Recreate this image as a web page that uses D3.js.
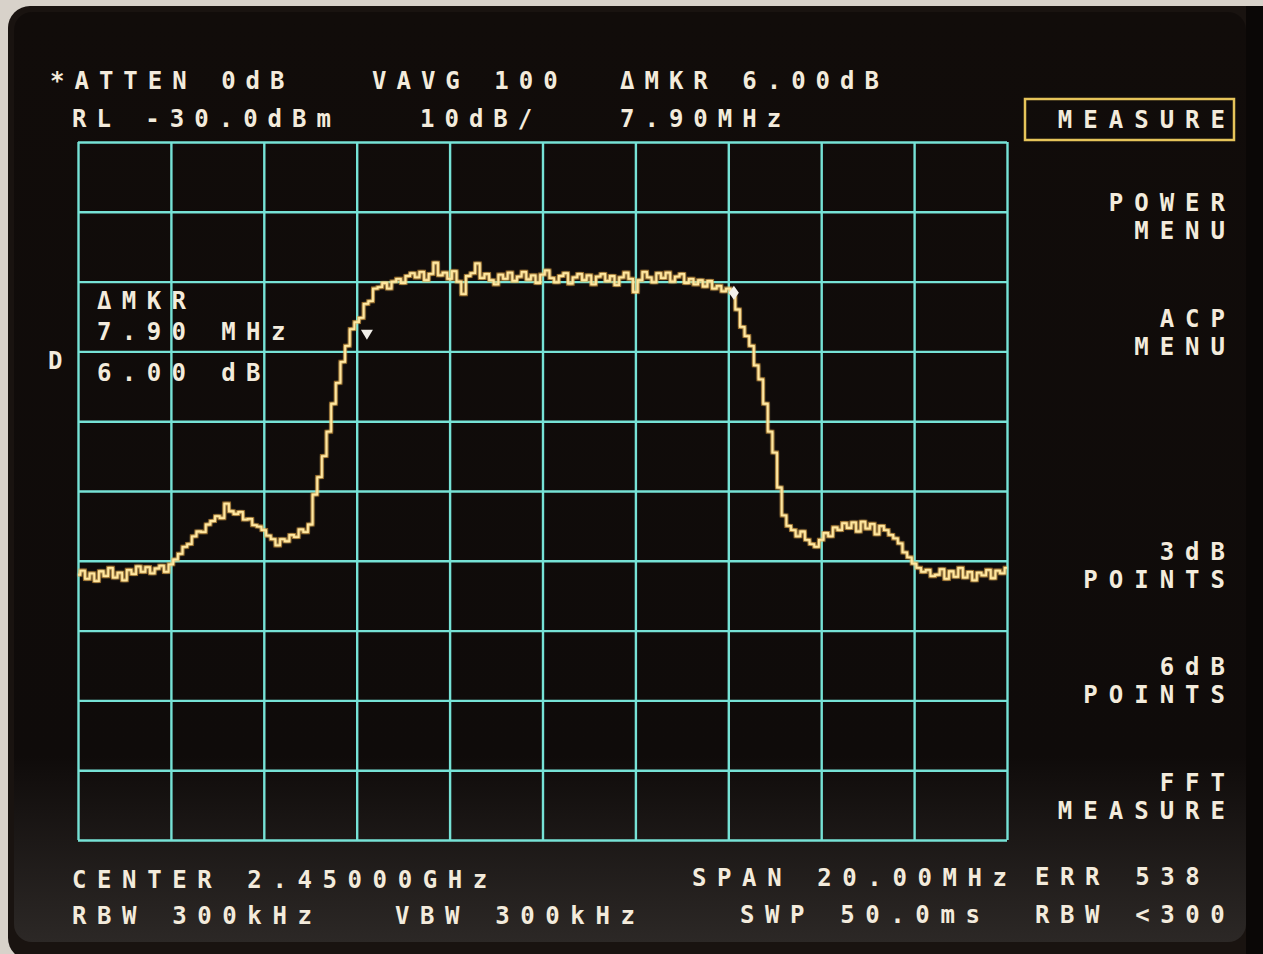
<!DOCTYPE html>
<html>
<head>
    <meta charset="utf-8">
    <title>Spectrum analyzer trace</title>
    <style>
        body { margin: 0; background: #d8d2ca; }
        svg { display: block; }
        .lbl {
            font-family: "DejaVu Sans Mono", monospace;
            font-weight: bold;
            font-size: 24px;
            fill: #f3ebdc;
        }
    </style>
    <script src="https://cdnjs.cloudflare.com/ajax/libs/d3/7.8.5/d3.min.js"></script>
</head>
<body>
    <script>
        // sweep: 2440 .. 2460 MHz, 0.1 MHz per point (201 points), values in dBm
        const startMHz = 2440
        const stepMHz = 0.1
        const traceDbm = [
            -92.0,-91.4,-92.6,-91.8,-92.9,-91.5,-92.2,-91.0,-92.4,-91.7,-92.8,-91.3,-91.9,-90.8,-91.6,-90.9,-91.8,-91.1,-90.7,-91.6,
            -90.5,-89.8,-89.0,-88.0,-87.6,-86.5,-85.8,-85.9,-84.8,-84.3,-83.6,-83.9,-81.8,-82.9,-83.3,-83.0,-84.1,-84.0,-84.9,-85.1,
            -85.6,-86.4,-86.9,-87.8,-86.9,-87.2,-86.3,-86.6,-85.5,-85.9,-84.8,
            -80.5,-78.0,-75.0,-71.5,-67.5,-64.5,-61.5,-59.2,-56.8,-55.8,-55.2,-53.2,-52.8,-51.0,-50.8,-50.2,-51.0,-50.0,-49.6,-50.2,-49.2,
            -48.8,-49.4,-48.6,-49.8,-48.9,-47.3,-49.1,-48.7,-49.6,-48.5,-50.0,-51.8,-49.2,-48.8,-47.4,-49.5,-48.9,-49.8,-50.4,-49.0,
            -49.6,-48.7,-49.9,-49.3,-48.6,-49.7,-49.1,-50.2,-49.0,-48.4,-49.5,-50.1,-49.2,-48.8,-50.3,-49.4,-48.9,-49.8,-49.1,-50.4,
            -49.3,-48.9,-49.9,-49.2,-50.5,-49.4,-48.7,-49.6,-51.5,-49.8,-48.6,-49.4,-50.1,-48.8,-49.5,-48.7,-50.0,-49.3,-48.9,-50.2,
            -49.6,-50.4,-49.8,-50.7,-49.9,-51.0,-50.6,-51.4,-51.0,-51.6,
            -54.0,-56.5,-57.8,-59.2,-62.0,-64.0,-67.5,-71.5,-74.5,-79.5,-83.5,-85.0,-85.6,-86.5,-85.8,-87.0,-87.6,-88.0,-87.0,-86.0,
            -86.5,-85.2,-85.6,-84.6,-85.3,-84.5,-85.8,-84.4,-85.4,-84.7,-86.2,-85.0,-85.6,-86.3,-86.8,-87.5,-88.8,-89.5,-90.4,-91.0,
            -91.6,-91.3,-92.2,
            -92.0,-91.2,-92.6,-91.5,-92.3,-91.0,-92.4,-91.6,-92.8,-91.7,-92.1,-91.3,-92.5,-91.4,-91.8,-91.0
        ]

        const freqTicks = [2440, 2442, 2444, 2446, 2448, 2450, 2452, 2454, 2456, 2458, 2460]
        const levelTicks = [-30, -40, -50, -60, -70, -80, -90, -100, -110, -120, -130]

        // delta marker pair (reference marker 6 dB below the active one)
        const refMarker = {f: 2446.22, db: -57.6}
        const actMarker = {f: 2454.12, db: -51.6}

        const headerLines = [
            {t: "*ATTEN 0dB", x: 50, y: 89},
            {t: "VAVG 100", x: 372, y: 89},
            {t: "\u0394MKR 6.00dB", x: 620, y: 89},
            {t: "RL -30.0dBm", x: 72, y: 127},
            {t: "10dB/", x: 420, y: 127},
            {t: "7.90MHz", x: 620, y: 127}
        ]
        const footerLines = [
            {t: "CENTER 2.45000GHz", x: 72, y: 888},
            {t: "SPAN 20.00MHz", x: 692, y: 886},
            {t: "ERR 538", x: 1035, y: 885},
            {t: "RBW 300kHz", x: 72, y: 924},
            {t: "VBW 300kHz", x: 395, y: 924},
            {t: "SWP 50.0ms", x: 740, y: 923},
            {t: "RBW <300", x: 1035, y: 923}
        ]
        const markerReadout = [
            {t: "\u0394MKR", x: 97, y: 309},
            {t: "7.90 MHz", x: 97, y: 340},
            {t: "6.00 dB", x: 97, y: 381},
            {t: "D", x: 48, y: 369}
        ]
        const softkeys = [
            {t: "MEASURE", y: 128},
            {t: "POWER", y: 211}, {t: "MENU", y: 239},
            {t: "ACP", y: 327}, {t: "MENU", y: 355},
            {t: "3dB", y: 560}, {t: "POINTS", y: 588},
            {t: "6dB", y: 675}, {t: "POINTS", y: 703},
            {t: "FFT", y: 791}, {t: "MEASURE", y: 819}
        ]

        const width = 1263
        const height = 954
        const plot = {left: 78, right: 1007, top: 142, bottom: 840}

        let svg = d3.select("body").append("svg")
            .attr("width", width)
            .attr("height", height)

        let defs = svg.append("defs")
        let grad = defs.append("linearGradient")
            .attr("id", "screen")
            .attr("x1", 0).attr("y1", 0).attr("x2", 0).attr("y2", 1)
        grad.append("stop").attr("offset", "0").attr("stop-color", "#110c0a")
        grad.append("stop").attr("offset", "0.8").attr("stop-color", "#0f0b0a")
        grad.append("stop").attr("offset", "1").attr("stop-color", "#2c2826")
        let glow = defs.append("filter").attr("id", "glow")
            .attr("x", "-5%").attr("y", "-5%").attr("width", "110%").attr("height", "110%")
        glow.append("feGaussianBlur").attr("stdDeviation", 1.2).attr("result", "b")
        let merge = glow.append("feMerge")
        merge.append("feMergeNode").attr("in", "b")
        merge.append("feMergeNode").attr("in", "SourceGraphic")

        // photo border / bezel
        svg.append("rect")
            .attr("x", 8).attr("y", 6)
            .attr("width", width).attr("height", height)
            .attr("rx", 22)
            .attr("fill", "#191310")
        svg.append("rect")
            .attr("x", 14).attr("y", 12)
            .attr("width", 1232).attr("height", 930)
            .attr("rx", 18)
            .attr("fill", "url(#screen)")
        svg.append("rect")
            .attr("x", 1246).attr("y", 6)
            .attr("width", 17).attr("height", height)
            .attr("fill", "#0a0706")

        let x = d3.scaleLinear()
            .domain([startMHz, startMHz + stepMHz * (traceDbm.length - 1)])
            .range([plot.left, plot.right])
        let y = d3.scaleLinear()
            .domain([-130, -30])
            .range([plot.bottom, plot.top])

        // graticule
        let gridColor = "#76e2d6"
        let xGrid = svg.append("g")
            .attr("transform", `translate(0, ${plot.bottom})`)
            .call(d3.axisBottom(x).tickValues(freqTicks).tickSize(-(plot.bottom - plot.top)).tickFormat(""))
        let yGrid = svg.append("g")
            .attr("transform", `translate(${plot.left}, 0)`)
            .call(d3.axisLeft(y).tickValues(levelTicks).tickSize(-(plot.right - plot.left)).tickFormat(""))
        svg.selectAll(".domain").remove()
        svg.selectAll(".tick line")
            .attr("stroke", gridColor)
            .attr("stroke-width", 2.4)

        // trace
        let pts = traceDbm.map((d, i) => [startMHz + i * stepMHz, d])
        let line = d3.line()
            .x(d => x(d[0]))
            .y(d => y(d[1]))
            .curve(d3.curveStep)
        svg.append("path")
            .attr("d", line(pts))
            .attr("fill", "none")
            .attr("stroke", "#e79a2a")
            .attr("stroke-width", 4)
            .attr("opacity", 0.55)
        svg.append("path")
            .attr("d", line(pts))
            .attr("fill", "none")
            .attr("stroke", "#ffe7a0")
            .attr("stroke-width", 1.8)
            .attr("filter", "url(#glow)")

        // markers
        let rx = x(refMarker.f), ry = y(refMarker.db)
        svg.append("path")
            .attr("d", `M${rx - 6},${ry - 5} L${rx + 6},${ry - 5} L${rx},${ry + 5} Z`)
            .attr("fill", "#f2f0ea")
        let ax = x(actMarker.f), ay = y(actMarker.db)
        svg.append("path")
            .attr("d", `M${ax},${ay - 7} L${ax + 5},${ay} L${ax},${ay + 7} L${ax - 5},${ay} Z`)
            .attr("fill", "#f2f0ea")

        // annotation text
        function addText(list, spacing) {
            svg.selectAll(null)
                .data(list)
                .enter()
                .append("text")
                    .attr("class", "lbl")
                    .attr("x", d => d.x)
                    .attr("y", d => d.y)
                    .attr("letter-spacing", spacing)
                    .attr("xml:space", "preserve")
                    .text(d => d.t)
        }
        addText(headerLines, 10)
        addText(footerLines, 10.6)
        addText(markerReadout, 10.4)

        svg.selectAll(null)
            .data(softkeys)
            .enter()
            .append("text")
                .attr("class", "lbl")
                .attr("x", 1236)
                .attr("y", d => d.y)
                .attr("text-anchor", "end")
                .attr("letter-spacing", 11)
                .text(d => d.t)

        svg.append("rect")
            .attr("x", 1025).attr("y", 99)
            .attr("width", 209).attr("height", 41)
            .attr("fill", "none")
            .attr("stroke", "#e6c45a")
            .attr("stroke-width", 2.5)
    </script>
</body>
</html>
